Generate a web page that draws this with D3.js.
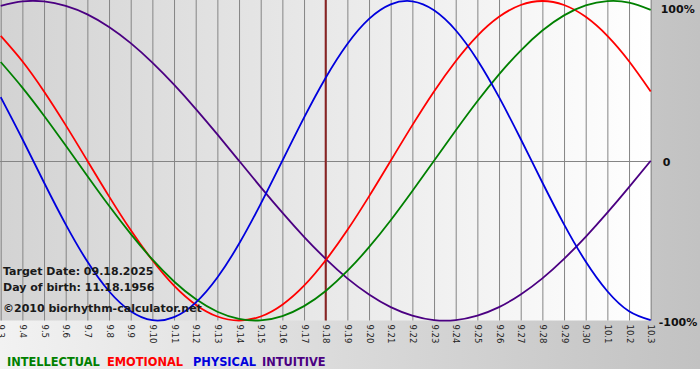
<!DOCTYPE html>
<html><head><meta charset="utf-8">
<script src="https://cdn.jsdelivr.net/npm/d3@7"></script>
<style>body{margin:0;padding:0;background:#fff}svg{display:block}</style>
</head><body><svg id="c" width="700" height="380"></svg>
<script>
const days = ["9.3","9.4","9.5","9.6","9.7","9.8","9.9","9.10","9.11","9.12","9.13","9.14","9.15","9.16","9.17","9.18","9.19","9.20","9.21","9.22","9.23","9.24","9.25","9.26","9.27","9.28","9.29","9.30","10.1","10.2","10.3"];
const intellectual = [0.618,0.458,0.282,0.095,-0.095,-0.282,-0.458,-0.618,-0.756,-0.866,-0.945,-0.990,-0.999,-0.972,-0.910,-0.815,-0.690,-0.541,-0.372,-0.189,0,0.189,0.372,0.541,0.690,0.815,0.910,0.972,0.999,0.990,0.945];
const emotional = [0.782,0.623,0.434,0.223,0,-0.223,-0.434,-0.623,-0.782,-0.901,-0.975,-1,-0.975,-0.901,-0.782,-0.623,-0.434,-0.223,0,0.223,0.434,0.623,0.782,0.901,0.975,1,0.975,0.901,0.782,0.623,0.434];
const physical = [0.398,0.136,-0.136,-0.398,-0.631,-0.817,-0.942,-0.998,-0.979,-0.888,-0.731,-0.520,-0.270,0,0.270,0.520,0.731,0.888,0.979,0.998,0.942,0.817,0.631,0.398,0.136,-0.136,-0.398,-0.631,-0.817,-0.942,-0.998];
const intuitive = [0.969,0.997,0.997,0.969,0.916,0.837,0.736,0.614,0.476,0.325,0.165,0,-0.165,-0.325,-0.476,-0.614,-0.736,-0.837,-0.916,-0.969,-0.997,-0.997,-0.969,-0.916,-0.837,-0.736,-0.614,-0.476,-0.325,-0.165,0];
const targetDay = "9.18";
const yTickValues = [1, 0, -1];
const yTickLabels = ["100%", "0", "-100%"];
const legendNames = ["INTELLECTUAL", "EMOTIONAL", "PHYSICAL", "INTUITIVE"];
const infoLines = ["Target Date: 09.18.2025", "Day of birth: 11.18.1956", "©2010 biorhythm-calculator.net"];

const svg = d3.select("#c");
const defs = svg.append("defs");
const g1 = defs.append("linearGradient").attr("id","outer").attr("x1","0").attr("x2","1").attr("y1","0").attr("y2","0");
g1.append("stop").attr("offset","0").attr("stop-color","#f2f2f2");
g1.append("stop").attr("offset","0.8").attr("stop-color","#cbcbcb");
g1.append("stop").attr("offset","1").attr("stop-color","#c2c2c2");
const g2 = defs.append("linearGradient").attr("id","plotbg").attr("x1","0").attr("x2","1").attr("y1","0").attr("y2","0");
g2.append("stop").attr("offset","0").attr("stop-color","#d3d3d3");
g2.append("stop").attr("offset","1").attr("stop-color","#ffffff");

const pLeft = 0.7, pRight = 650.7, pTop = 1, pBottom = 320.5;
const x = d3.scalePoint().domain(days).range([pLeft, pRight]);
const y = d3.scaleLinear().domain([-1, 1]).range([pBottom, pTop]);

svg.append("rect").attr("x",0).attr("y",0).attr("width",700).attr("height",369).attr("fill","url(#outer)");
svg.append("rect").attr("x",0).attr("y",0).attr("width",pRight).attr("height",pBottom).attr("fill","url(#plotbg)");

// vertical grid via axis
const xAxis = d3.axisBottom(x).tickSize(-pBottom).tickPadding(4);
const xa = svg.append("g").attr("transform",`translate(0,${pBottom})`).call(xAxis);
xa.select(".domain").remove();
xa.selectAll(".tick line").attr("stroke","#858585").attr("stroke-width",1);
xa.selectAll(".tick text")
  .attr("transform","rotate(90)")
  .attr("x",4).attr("y",0).attr("dy","0.35em")
  .attr("text-anchor","start")
  .attr("font-family","DejaVu Sans, Verdana, sans-serif")
  .attr("font-size","8.5px")
  .attr("fill","#222");

// zero line
svg.append("line").attr("x1",0).attr("x2",pRight).attr("y1",Math.round(y(0))+0.5).attr("y2",Math.round(y(0))+0.5)
  .attr("stroke","#858585").attr("stroke-width",1);

// right axis labels
const yOffsets = [8, 1, 1];
const xOffsets = [10, 12, 8];
const ya = svg.append("g").attr("transform",`translate(${pRight},0)`)
  .call(d3.axisRight(y).tickValues(yTickValues).tickSize(0).tickPadding(0).tickFormat((d,i)=>yTickLabels[i]));
ya.select(".domain").remove();
ya.selectAll(".tick text").attr("font-family","DejaVu Sans, Verdana, sans-serif")
  .attr("font-weight","bold").attr("font-size","11px").attr("fill","#111")
  .attr("x",(d,i)=>xOffsets[i]).attr("y",(d,i)=>yOffsets[i]);

// target line
svg.append("line").attr("x1",x(targetDay)).attr("x2",x(targetDay)).attr("y1",0).attr("y2",pBottom)
  .attr("stroke","#8a2323").attr("stroke-width",2);

const series = [
  {name: legendNames[0], vals: intellectual, color: "#008000"},
  {name: legendNames[1], vals: emotional, color: "#ff0000"},
  {name: legendNames[2], vals: physical, color: "#0000dd"},
  {name: legendNames[3], vals: intuitive, color: "#4b0082"}
];
const line = d3.line().x((d,i)=>x(days[i])).y(d=>y(d)).curve(d3.curveNatural);
const drawOrder = [3,1,0,2];
drawOrder.forEach(k=>{
  svg.append("path").attr("d", line(series[k].vals)).attr("fill","none")
    .attr("stroke", series[k].color).attr("stroke-width",1.8);
});

// info text
const info = svg.append("g").attr("font-family","DejaVu Sans, Verdana, sans-serif")
  .attr("font-weight","bold").attr("font-size","11px").attr("fill","#1a1a1a");
info.selectAll("text").data(infoLines).join("text")
  .attr("x",3).attr("y",(d,i)=>[275,291,312][i]).text(d=>d);

// legend
const legX = [7, 107, 193, 262];
const leg = svg.append("g").attr("font-family","DejaVu Sans, Verdana, sans-serif")
  .attr("font-weight","bold").attr("font-size","11.4px");
leg.selectAll("text").data(series).join("text")
  .attr("x",(d,i)=>legX[i]).attr("y",366).attr("fill",d=>d.color).text(d=>d.name);
</script></body></html>
